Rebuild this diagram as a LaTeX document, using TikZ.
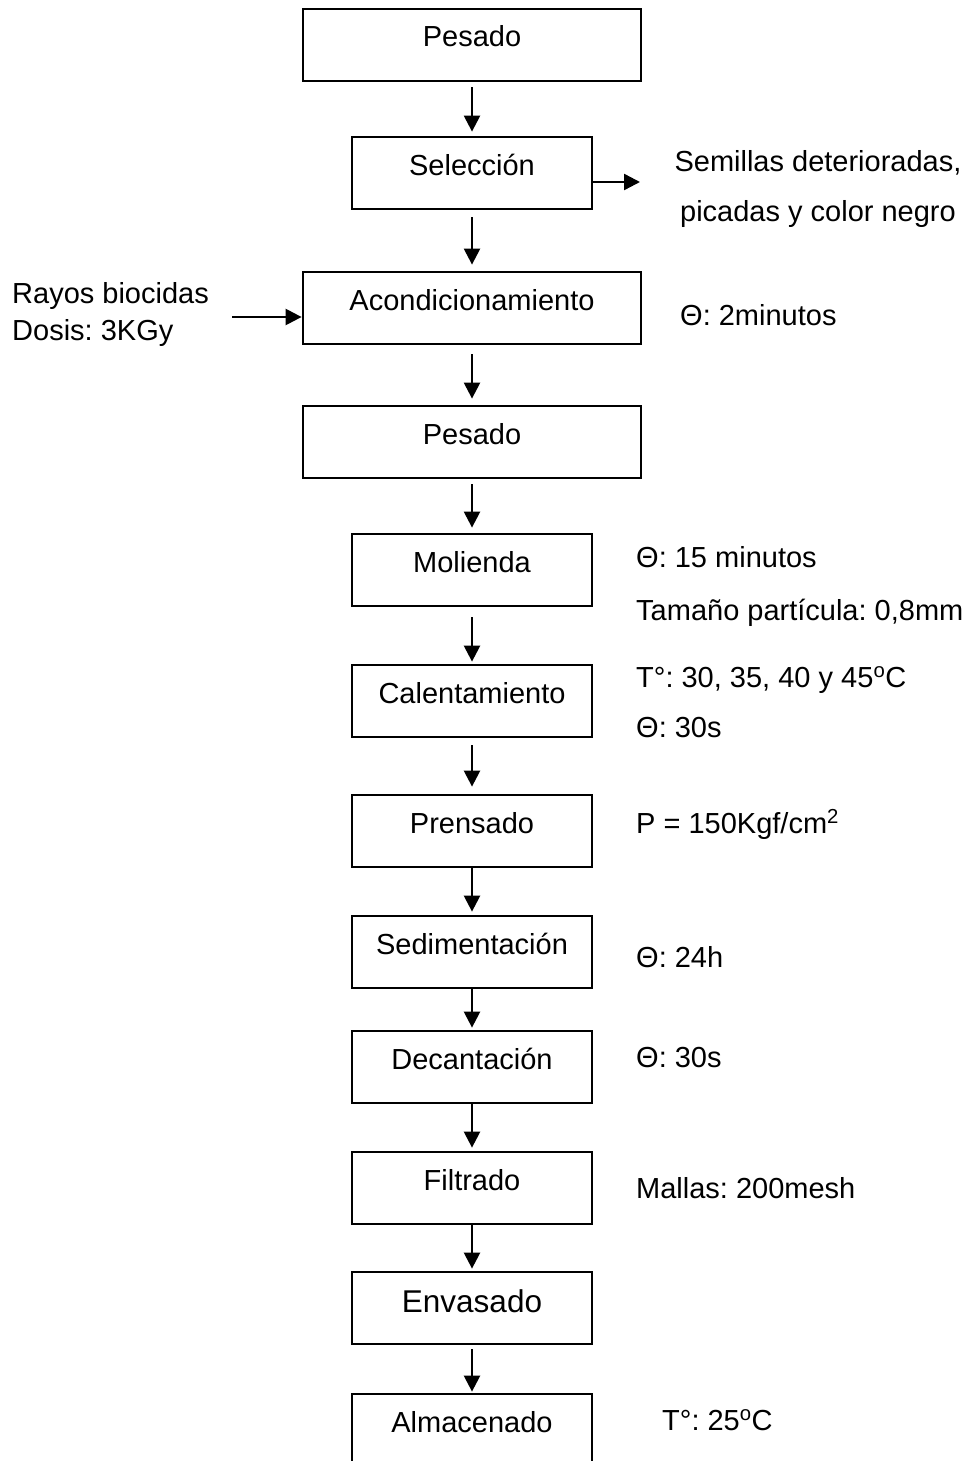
\documentclass[tikz,border=0pt]{standalone}
\usepackage{fontspec}
\setmainfont{Liberation Sans}
\usetikzlibrary{arrows.meta}
\frenchspacing
\begin{document}
\begin{tikzpicture}[x=1pt,y=-1pt,
  every node/.style={font=\fontsize{29}{35}\selectfont},
  proc/.style={draw, line width=2.8pt, minimum height=72pt, inner ysep=0pt, inner xsep=0pt,
               text height=21pt, text depth=17pt},
  narrow/.style={proc, minimum width=240pt},
  wide/.style={proc, minimum width=338pt},
  flow/.style={line width=2.4pt, -{Triangle[width=16pt,length=16pt]}},
  note/.style={anchor=base west, inner sep=0pt},
  cnote/.style={anchor=base, inner sep=0pt},
]
\clip (0,0) rectangle (973,1461);
\fill[white] (0,0) rectangle (973,1461);

% process steps
\node[wide]   (p1)   at (472,45)   {Pesado};
\node[narrow] (sel)  at (472,173)  {Selección};
\node[wide]   (acon) at (472,308)  {Acondicionamiento};
\node[wide]   (p2)   at (472,442)  {Pesado};
\node[narrow] (mol)  at (472,570)  {Molienda};
\node[narrow] (cal)  at (472,701)  {Calentamiento};
\node[narrow] (pren) at (472,831)  {Prensado};
\node[narrow] (sed)  at (472,952)  {Sedimentación};
\node[narrow] (dec)  at (472,1067) {Decantación};
\node[narrow] (fil)  at (472,1188) {Filtrado};
\node[narrow, font=\fontsize{31.5}{38}\selectfont, text height=23pt, text depth=15pt]
              (env)  at (472,1308) {Envasado};
\node[narrow] (alm)  at (472,1430) {Almacenado};

% main flow
\draw[flow, shorten <=5pt,  shorten >=4pt] (p1)   -- (sel);
\draw[flow, shorten <=7pt,  shorten >=6pt] (sel)  -- (acon);
\draw[flow, shorten <=9pt,  shorten >=6pt] (acon) -- (p2);
\draw[flow, shorten <=5pt,  shorten >=5pt] (p2)   -- (mol);
\draw[flow, shorten <=10pt, shorten >=2pt] (mol)  -- (cal);
\draw[flow, shorten <=7pt,  shorten >=7pt] (cal)  -- (pren);
\draw[flow, shorten >=3pt] (pren) -- (sed);
\draw[flow, shorten >=2pt] (sed)  -- (dec);
\draw[flow, shorten >=3pt] (dec)  -- (fil);
\draw[flow, shorten >=2pt] (fil)  -- (env);
\draw[flow, shorten <=4pt,  shorten >=1pt] (env)  -- (alm);

% side streams
\coordinate (selout) at (640,182);
\coordinate (rin) at (232,317);
\draw[flow] (sel.east |- selout) -- (selout);
\draw[flow] (rin) -- (rin -| acon.west);

\node[cnote] (sem1) at (818,171) {Semillas deterioradas,};
\node[cnote] (sem2) at (818,221) {picadas y color negro};
\node[note] (ray1) at (12,303) {Rayos biocidas};
\node[note] (ray2) at (12,340) {Dosis: 3KGy};

% operating conditions
\node[note] (c1)  at (680,325)  {Θ: 2minutos};
\node[note] (c2)  at (636,567)  {Θ: 15 minutos};
\node[note] (c3)  at (636,620)  {Tamaño partícula: 0,8mm};
\node[note] (c4)  at (636,687)  {T°: 30, 35, 40 y 45\textsuperscript{o}C};
\node[note] (c5)  at (636,737)  {Θ: 30s};
\node[note] (c6)  at (636,833)  {P = 150Kgf/cm\textsuperscript{2}};
\node[note] (c7)  at (636,967)  {Θ: 24h};
\node[note] (c8)  at (636,1067) {Θ: 30s};
\node[note] (c9)  at (636,1198) {Mallas: 200mesh};
\node[note] (c10) at (662,1430) {T°: 25\textsuperscript{o}C};
\end{tikzpicture}
\end{document}
